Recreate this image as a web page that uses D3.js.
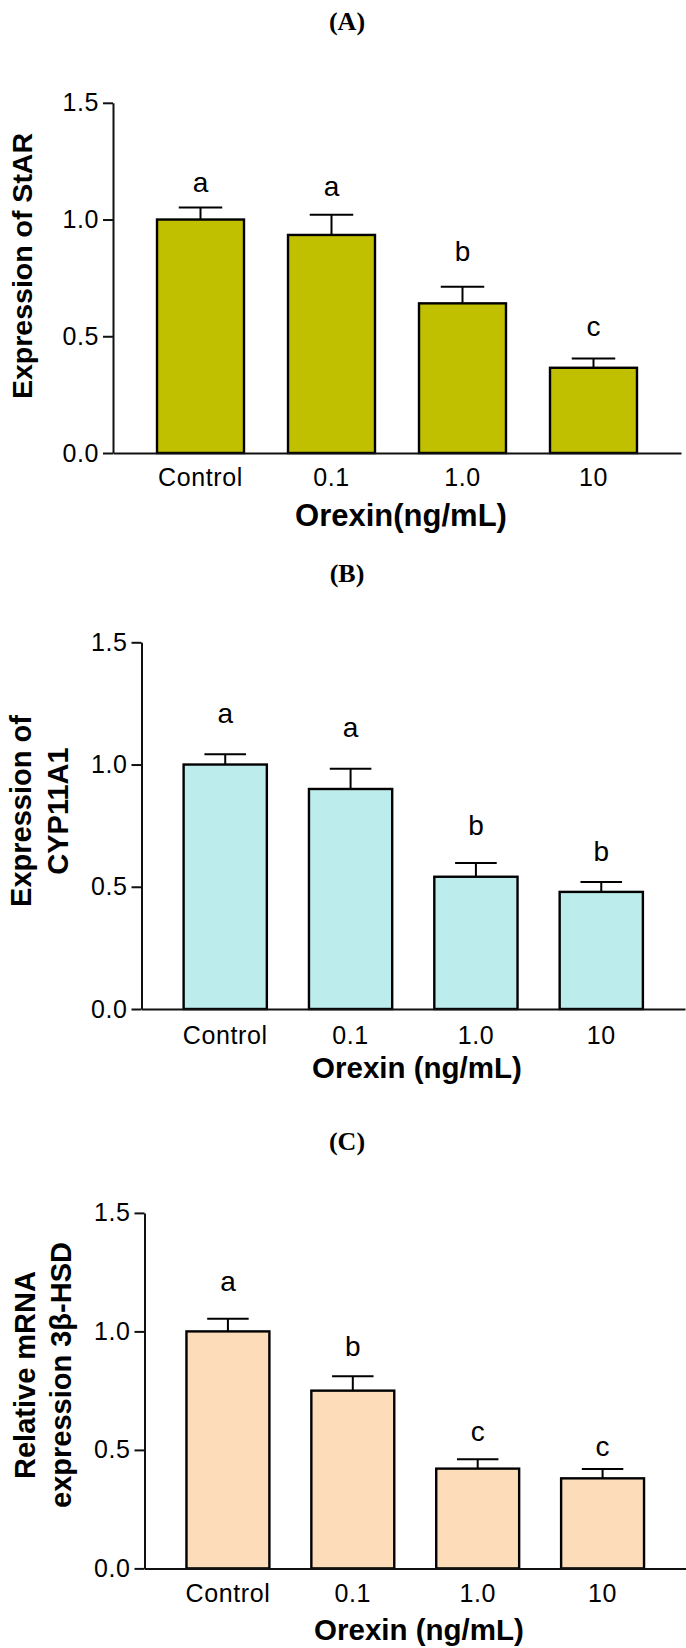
<!DOCTYPE html>
<html>
<head>
<meta charset="utf-8">
<script src="https://cdn.jsdelivr.net/npm/d3@7"></script>
<style>
  html, body { margin: 0; padding: 0; background: #fff; }
  svg { display: block; }
</style>
</head>
<body>
<svg id="fig" width="686" height="1648"></svg>
<script>
// Treatment groups (orexin dose) and y-axis ticks shared by all three panels
const groups = ["Control", "0.1", "1.0", "10"];
const yTicks = [0, 0.5, 1.0, 1.5];

// (A) StAR expression: mean, SEM and significance letters
const starMean = [1.0, 0.934, 0.641, 0.365];
const starErr = [0.052, 0.087, 0.071, 0.040];
const starLetters = ["a", "a", "b", "c"];
const starLetterAt = [1.117, 1.099, 0.824, 0.502];

// (B) CYP11A1 expression
const cypMean = [1.0, 0.900, 0.541, 0.479];
const cypErr = [0.042, 0.083, 0.056, 0.041];
const cypLetters = ["a", "a", "b", "b"];
const cypLetterAt = [1.170, 1.112, 0.712, 0.605];

// (C) 3β-HSD relative mRNA expression
const hsdMean = [1.0, 0.750, 0.421, 0.380];
const hsdErr = [0.053, 0.061, 0.040, 0.039];
const hsdLetters = ["a", "b", "c", "c"];
const hsdLetterAt = [1.170, 0.896, 0.539, 0.474];

const svg = d3.select("#fig");
const SANS = "'Liberation Sans', Arial, Helvetica, sans-serif";
const SERIF = "'Liberation Serif', 'Times New Roman', serif";

function drawPanel(p) {
  const g = svg.append("g");

  const x = d3.scaleBand()
    .domain(groups)
    .range([p.axisX, p.right])
    .paddingInner(0.336)
    .paddingOuter(0.336);

  const y = d3.scaleLinear()
    .domain([0, 1.5])
    .range([p.y0, p.yTop]);

  // panel tag
  g.append("text")
    .attr("x", 347).attr("y", p.tagY)
    .attr("text-anchor", "middle")
    .attr("font-family", SERIF).attr("font-weight", "bold")
    .attr("font-size", 26)
    .text(p.tag);

  const rows = groups.map((k, i) => ({
    k, m: p.mean[i], e: p.err[i], lab: p.letters[i], at: p.letterAt[i]
  }));

  // bars
  g.selectAll("rect.bar").data(rows).join("rect")
    .attr("class", "bar")
    .attr("x", d => x(d.k))
    .attr("y", d => y(d.m))
    .attr("width", x.bandwidth())
    .attr("height", d => y(0) - y(d.m))
    .attr("fill", p.color)
    .attr("stroke", "#000")
    .attr("stroke-width", 2.4);

  // upper error bars
  const cx = d => x(d.k) + x.bandwidth() / 2;
  const capHalf = x.bandwidth() / 4;
  g.selectAll("line.err").data(rows).join("line")
    .attr("class", "err")
    .attr("x1", cx).attr("x2", cx)
    .attr("y1", d => y(d.m)).attr("y2", d => y(d.m + d.e))
    .attr("stroke", "#000").attr("stroke-width", 2);
  g.selectAll("line.cap").data(rows).join("line")
    .attr("class", "cap")
    .attr("x1", d => cx(d) - capHalf).attr("x2", d => cx(d) + capHalf)
    .attr("y1", d => y(d.m + d.e)).attr("y2", d => y(d.m + d.e))
    .attr("stroke", "#000").attr("stroke-width", 2);

  // significance letters
  g.selectAll("text.sig").data(rows).join("text")
    .attr("class", "sig")
    .attr("x", cx)
    .attr("y", d => y(d.at))
    .attr("text-anchor", "middle")
    .attr("font-family", SANS)
    .attr("font-size", 28)
    .text(d => d.lab);

  // y axis
  const ya = g.append("g")
    .attr("transform", `translate(${p.axisX},0)`)
    .call(d3.axisLeft(y).tickValues(yTicks).tickFormat(d3.format(".1f"))
      .tickSize(10).tickSizeOuter(0).tickPadding(4));
  ya.select(".domain").attr("stroke", "#111").attr("stroke-width", 2);
  ya.selectAll(".tick line").attr("stroke", "#111").attr("stroke-width", 2);
  ya.selectAll(".tick text")
    .attr("font-family", SANS).attr("font-size", 25)
    .attr("letter-spacing", 0.6)
    .attr("fill", "#000");

  // x axis (baseline with category labels)
  const xa = g.append("g")
    .attr("transform", `translate(0,${p.y0})`)
    .call(d3.axisBottom(x).tickSize(0).tickSizeOuter(0));
  xa.select(".domain").attr("stroke", "#111").attr("stroke-width", 2);
  xa.selectAll(".tick text")
    .attr("y", p.tickLabelDy).attr("dy", 0)
    .attr("font-family", SANS).attr("font-size", 25)
    .attr("letter-spacing", 0.6)
    .attr("fill", "#000");

  // x title
  g.append("text")
    .attr("x", p.xTitleX).attr("y", p.y0 + p.xTitleDy)
    .attr("text-anchor", "middle")
    .attr("font-family", SANS).attr("font-weight", "bold")
    .attr("font-size", p.xTitleSize)
    .text(p.xTitle);

  // y title (one or two rotated lines)
  p.yTitle.forEach((line, i) => {
    g.append("text")
      .attr("transform", `translate(${p.yTitleX[i]},${p.yTitleY}) rotate(-90)`)
      .attr("text-anchor", "middle")
      .attr("font-family", SANS).attr("font-weight", "bold")
      .attr("font-size", p.yTitleSize)
      .text(line);
  });
}

drawPanel({
  tag: "(A)", tagY: 30,
  axisX: 113, right: 681, yTop: 102.8, y0: 453,
  mean: starMean, err: starErr, letters: starLetters, letterAt: starLetterAt,
  color: "#C0C000",
  tickLabelDy: 33,
  xTitle: "Orexin(ng/mL)", xTitleX: 401, xTitleDy: 73, xTitleSize: 31,
  yTitle: ["Expression of StAR"], yTitleX: [31.5], yTitleY: 266, yTitleSize: 28.5
});

drawPanel({
  tag: "(B)", tagY: 582,
  axisX: 141.5, right: 685, yTop: 642.3, y0: 1009,
  mean: cypMean, err: cypErr, letters: cypLetters, letterAt: cypLetterAt,
  color: "#BDECEC",
  tickLabelDy: 35,
  xTitle: "Orexin (ng/mL)", xTitleX: 417, xTitleDy: 69, xTitleSize: 29.5,
  yTitle: ["Expression of", "CYP11A1"], yTitleX: [31, 68], yTitleY: 811, yTitleSize: 29
});

drawPanel({
  tag: "(C)", tagY: 1149.5,
  axisX: 144.5, right: 686, yTop: 1212.9, y0: 1568.4,
  mean: hsdMean, err: hsdErr, letters: hsdLetters, letterAt: hsdLetterAt,
  color: "#FDDCBA",
  tickLabelDy: 33.5,
  xTitle: "Orexin (ng/mL)", xTitleX: 419, xTitleDy: 72, xTitleSize: 29.5,
  yTitle: ["Relative mRNA", "expression 3β-HSD"], yTitleX: [35, 70.5], yTitleY: 1375, yTitleSize: 29
});
</script>
</body>
</html>
